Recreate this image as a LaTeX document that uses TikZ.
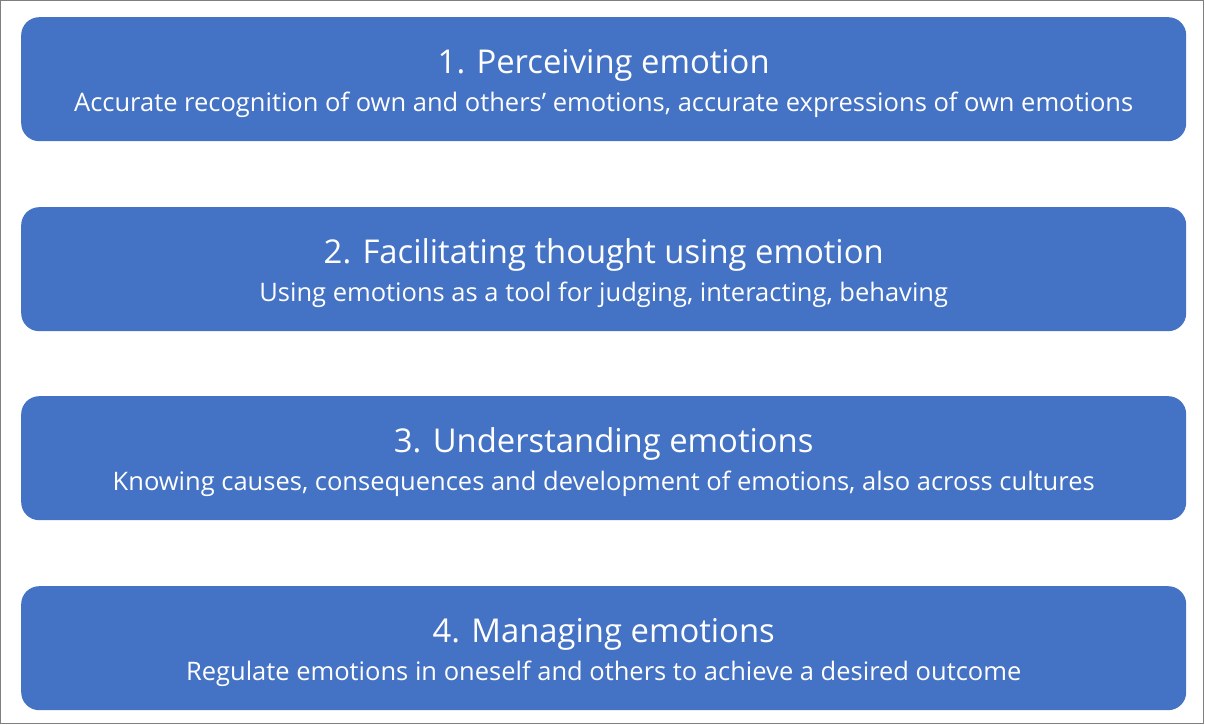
\documentclass[tikz,border=0pt]{standalone}
\usepackage{fontspec}
\setmainfont{Open Sans}
\definecolor{boxblue}{HTML}{4472C4}
\definecolor{framegray}{HTML}{7F7F7F}
\begin{document}
\begin{tikzpicture}[x=1pt,y=1pt,
  boxstyle/.style={fill=boxblue, draw=none, rounded corners=18pt, minimum width=1165pt, minimum height=124pt, inner sep=0pt, anchor=north west},
  titlestyle/.style={text=white, font=\fontsize{32.8}{38}\selectfont, anchor=base, inner sep=0pt},
  substyle/.style={text=white, font=\fontsize{25.5}{30}\selectfont, anchor=base, inner sep=0pt}]
\useasboundingbox (0,0) rectangle (1205,725);
\draw[framegray, line width=1pt] (0.5,1.5) rectangle (1203.5,724.5);
\node[boxstyle] (b1) at (21,708) {};
\node[boxstyle] (b2) at (21,518) {};
\node[boxstyle] (b3) at (21,329) {};
\node[boxstyle] (b4) at (21,139) {};
\node[titlestyle] (t1) at ([yshift=-57pt]b1.north) {1. Perceiving emotion};
\node[substyle] (s1) at ([yshift=-95pt]b1.north) {Accurate recognition of own and others’ emotions, accurate expressions of own emotions};
\node[titlestyle] (t2) at ([yshift=-57pt]b2.north) {2. Facilitating thought using emotion};
\node[substyle] (s2) at ([yshift=-95pt]b2.north) {Using emotions as a tool for judging, interacting, behaving};
\node[titlestyle] (t3) at ([yshift=-57pt]b3.north) {3. Understanding emotions};
\node[substyle] (s3) at ([yshift=-95pt]b3.north) {Knowing causes, consequences and development of emotions, also across cultures};
\node[titlestyle] (t4) at ([yshift=-57pt]b4.north) {4. Managing emotions};
\node[substyle] (s4) at ([yshift=-95pt]b4.north) {Regulate emotions in oneself and others to achieve a desired outcome};
\end{tikzpicture}
\end{document}
